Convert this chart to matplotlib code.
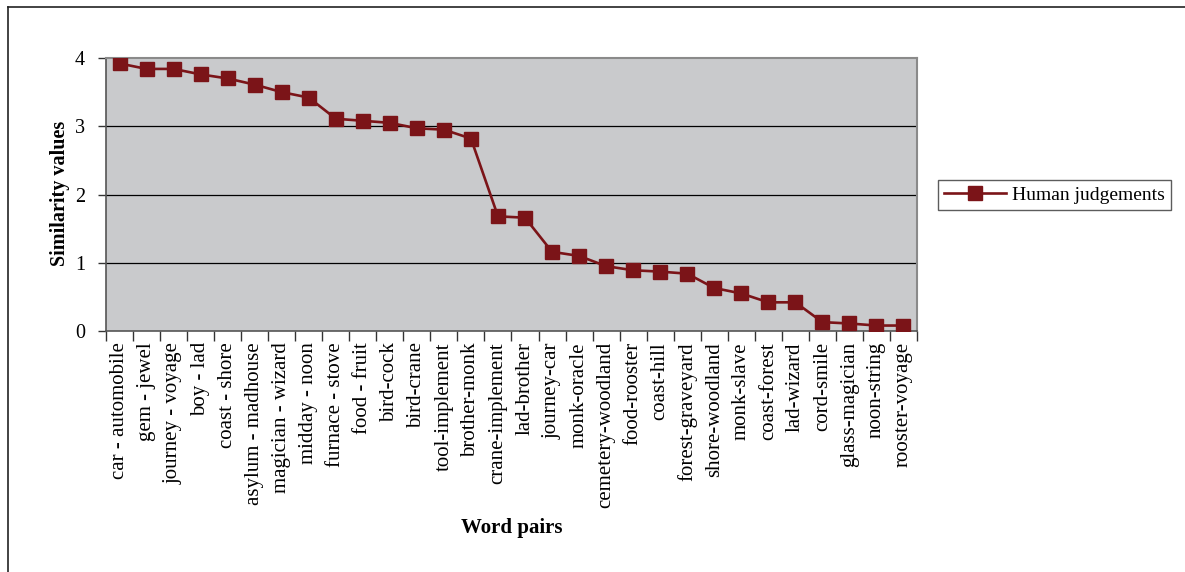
import matplotlib
matplotlib.use("Agg")
import matplotlib.pyplot as plt
from matplotlib.lines import Line2D

# Word pairs and mean human similarity ratings
pairs = [
    "car - automobile", "gem - jewel", "journey - voyage", "boy - lad",
    "coast - shore", "asylum - madhouse", "magician - wizard", "midday - noon",
    "furnace - stove", "food - fruit", "bird-cock", "bird-crane",
    "tool-implement", "brother-monk", "crane-implement", "lad-brother",
    "journey-car", "monk-oracle", "cemetery-woodland", "food-rooster",
    "coast-hill", "forest-graveyard", "shore-woodland", "monk-slave",
    "coast-forest", "lad-wizard", "cord-smile", "glass-magician",
    "noon-string", "rooster-voyage",
]
human = [
    3.92, 3.84, 3.84, 3.76, 3.70, 3.61, 3.50, 3.42, 3.11, 3.08,
    3.05, 2.97, 2.95, 2.82, 1.68, 1.66, 1.16, 1.10, 0.95, 0.89,
    0.87, 0.84, 0.63, 0.55, 0.42, 0.42, 0.13, 0.11, 0.08, 0.08,
]
yticks = [0, 1, 2, 3, 4]

plt.rcParams["font.family"] = ["Liberation Serif", "DejaVu Serif"]
line_color = "#7b1418"

fig = plt.figure(figsize=(11.85, 5.72), dpi=100)
ax = fig.add_axes([106 / 1185, 1 - 331 / 572, (917 - 106) / 1185, (331 - 58) / 572])
ax.set_facecolor("#c9cacc")

x = list(range(len(pairs)))
ax.plot(x, human, color=line_color, lw=1.9, marker="s", markersize=10,
        markeredgecolor=line_color, label="Human judgements", zorder=3)

ax.set_xlim(-0.5, len(pairs) - 0.5)
ax.set_ylim(0, 4)
ax.set_yticks(yticks)
ax.set_yticklabels([str(v) for v in yticks], fontsize=14.5)
for v in yticks[1:-1]:
    ax.axhline(v, color="black", lw=0.9, zorder=1)

# category labels centred, tick marks on the boundaries
ax.set_xticks(x)
ax.set_xticklabels(pairs, rotation=90, fontsize=15)
ax.set_xticks([i - 0.5 for i in range(len(pairs) + 1)], minor=True)
ax.tick_params(axis="x", which="major", length=0, pad=8)
ax.tick_params(axis="x", which="minor", length=7, width=1, color="#333333")
ax.tick_params(axis="y", length=6, width=1, color="#333333", pad=9)

for side in ["top", "right"]:
    ax.spines[side].set_color("#8a8a8a")
    ax.spines[side].set_linewidth(1.5)
for side in ["left", "bottom"]:
    ax.spines[side].set_color("#555555")
    ax.spines[side].set_linewidth(1.2)

# axis titles placed directly in figure coordinates
fig.text(60 / 1185, 1 - 193 / 572, "Similarity values", fontsize=14.5,
         fontweight="bold", rotation=90, ha="center", va="center")
fig.text(512 / 1185, 1 - 528 / 572, "Word pairs", fontsize=15,
         fontweight="bold", ha="center", va="center")

handle = Line2D([], [], color=line_color, lw=1.9, marker="s", markersize=10,
                markeredgecolor=line_color)
leg = fig.legend([handle], ["Human judgements"], loc="center left",
                 bbox_to_anchor=(938 / 1185, 1 - 195 / 572), fontsize=14,
                 frameon=True, fancybox=False, edgecolor="#333333",
                 handlelength=3.2, handletextpad=0.3, borderpad=0.3,
                 borderaxespad=0)
leg.get_frame().set_linewidth(1.0)

# outer chart frame (open at right and bottom)
fig.add_artist(Line2D([8 / 1185, 8 / 1185], [0, 1 - 7 / 572],
                      color="#222222", lw=1.2, transform=fig.transFigure))
fig.add_artist(Line2D([8 / 1185, 1], [1 - 7 / 572, 1 - 7 / 572],
                      color="#222222", lw=1.2, transform=fig.transFigure))

fig.savefig("out.png", dpi=100)
